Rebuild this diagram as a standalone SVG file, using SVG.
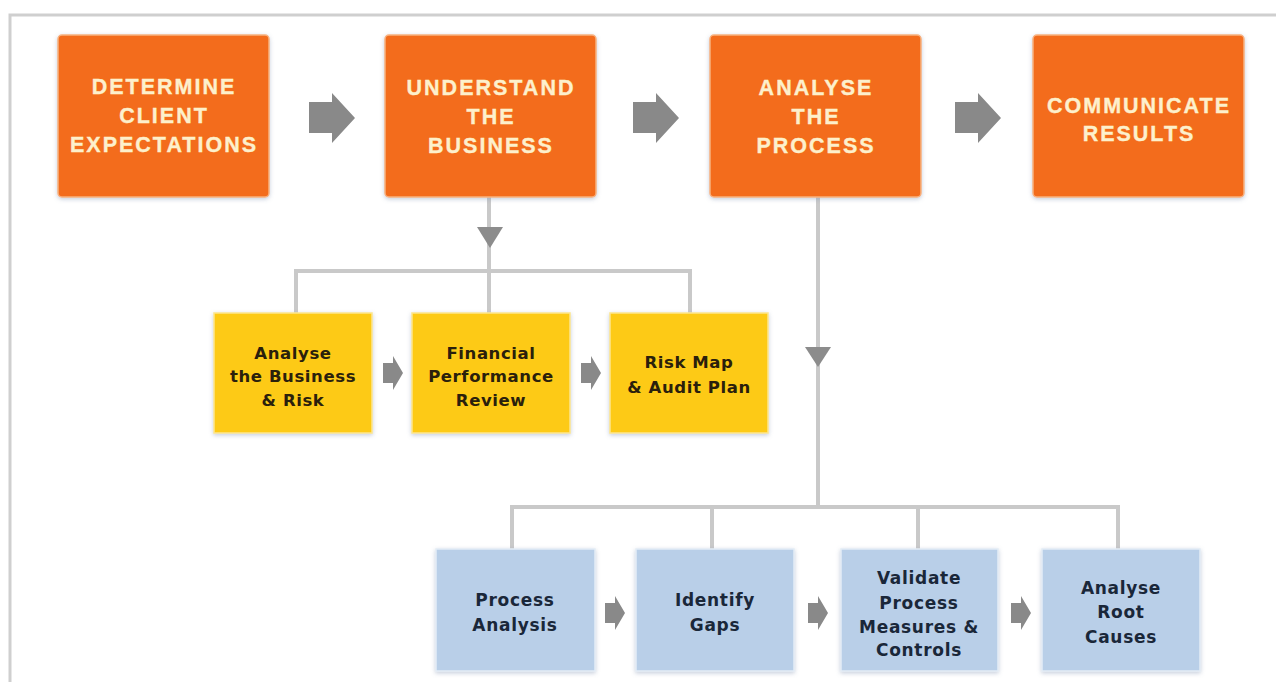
<svg xmlns="http://www.w3.org/2000/svg" width="1276" height="682" viewBox="0 0 1276 682">
<defs>
<filter id="sh" x="-10%" y="-10%" width="120%" height="125%">
<feDropShadow dx="0" dy="1.5" stdDeviation="2.2" flood-color="#7f8fb0" flood-opacity="0.45"/>
</filter>
<style>
.frame{stroke:#cfcfcf;stroke-width:3;fill:none}
.conn{stroke:#c9c9c9;stroke-width:4;fill:none}
.tri{fill:#8c8c8c}
.arr{fill:#898989}
.org{fill:#f36c1f;stroke:#f8b27f;stroke-width:1.5}
.yel{fill:#fdca18;stroke:#fde68f;stroke-width:1.5}
.blu{fill:#b9cfe8;stroke:#e4edf6;stroke-width:1.5}
.ot{font-family:"Liberation Sans",Arial,sans-serif;font-weight:bold;font-size:21.5px;letter-spacing:2px;fill:#fdf0cc;stroke:#fdf0cc;stroke-width:0.35;text-anchor:middle}
.yt{font-family:"DejaVu Sans",Verdana,sans-serif;font-weight:bold;font-size:16.5px;letter-spacing:0.6px;fill:#2a200c;text-anchor:middle}
.bt{font-family:"DejaVu Sans",Verdana,sans-serif;font-weight:bold;font-size:17px;letter-spacing:0.7px;fill:#1a2739;text-anchor:middle}
</style>
</defs>
<rect x="0" y="0" width="1276" height="682" fill="#ffffff"/>
<path class="frame" d="M10 682 V15 H1276"/>

<g id="connectors">
<path class="conn" d="M489 197 V313 M296 313 V271 H690 V313"/>
<polygon class="tri" points="477,227 503,227 490,248"/>
<path class="conn" d="M818 197 V507 M512 549 V507 H1118 V549 M712 507 V549 M918 507 V549"/>
<polygon class="tri" points="805,347 831,347 818,367"/>
<polygon class="arr" points="309,102 332,102 332,93 355,118 332,143 332,133 309,133"/>
<polygon class="arr" points="633,102 656,102 656,93 679,118 656,143 656,133 633,133"/>
<polygon class="arr" points="955,102 978,102 978,93 1001,118 978,143 978,133 955,133"/>
<polygon class="arr" points="383,363 393,363 393,356 403,373 393,390 393,383 383,383"/>
<polygon class="arr" points="581,363 591,363 591,356 601,373 591,390 591,383 581,383"/>
<polygon class="arr" points="605,603 615,603 615,596 625,613 615,630 615,623 605,623"/>
<polygon class="arr" points="808,603 818,603 818,596 828,613 818,630 818,623 808,623"/>
<polygon class="arr" points="1011,603 1021,603 1021,596 1031,613 1021,630 1021,623 1011,623"/>
</g>

<g id="n1"><rect class="org" x="58" y="35" width="211" height="162" rx="4" filter="url(#sh)"/>
<text class="ot" x="164" y="94">DETERMINE</text><text class="ot" x="164" y="123">CLIENT</text><text class="ot" x="164" y="152">EXPECTATIONS</text></g>
<g id="n2"><rect class="org" x="385" y="35" width="211" height="162" rx="4" filter="url(#sh)"/>
<text class="ot" x="491" y="95">UNDERSTAND</text><text class="ot" x="491" y="124">THE</text><text class="ot" x="491" y="153">BUSINESS</text></g>
<g id="n3"><rect class="org" x="710" y="35" width="211" height="162" rx="4" filter="url(#sh)"/>
<text class="ot" x="816" y="95">ANALYSE</text><text class="ot" x="816" y="124">THE</text><text class="ot" x="816" y="153">PROCESS</text></g>
<g id="n4"><rect class="org" x="1033" y="35" width="211" height="162" rx="4" filter="url(#sh)"/>
<text class="ot" x="1139" y="113">COMMUNICATE</text><text class="ot" x="1139" y="141">RESULTS</text></g>

<g id="y1"><rect class="yel" x="214" y="313" width="158" height="120" filter="url(#sh)"/>
<text class="yt" x="293" y="359">Analyse</text><text class="yt" x="293" y="382">the Business</text><text class="yt" x="293" y="406">&amp; Risk</text></g>
<g id="y2"><rect class="yel" x="412" y="313" width="158" height="120" filter="url(#sh)"/>
<text class="yt" x="491" y="359">Financial</text><text class="yt" x="491" y="382">Performance</text><text class="yt" x="491" y="406">Review</text></g>
<g id="y3"><rect class="yel" x="610" y="313" width="158" height="120" filter="url(#sh)"/>
<text class="yt" x="689" y="368">Risk Map</text><text class="yt" x="689" y="393">&amp; Audit Plan</text></g>

<g id="b1"><rect class="blu" x="436" y="549" width="159" height="122" filter="url(#sh)"/>
<text class="bt" x="515" y="606">Process</text><text class="bt" x="515" y="631">Analysis</text></g>
<g id="b2"><rect class="blu" x="636" y="549" width="158" height="122" filter="url(#sh)"/>
<text class="bt" x="715" y="606">Identify</text><text class="bt" x="715" y="631">Gaps</text></g>
<g id="b3"><rect class="blu" x="841" y="549" width="157" height="122" filter="url(#sh)"/>
<text class="bt" x="919" y="584">Validate</text><text class="bt" x="919" y="609">Process</text><text class="bt" x="919" y="633">Measures &amp;</text><text class="bt" x="919" y="656">Controls</text></g>
<g id="b4"><rect class="blu" x="1042" y="549" width="158" height="122" filter="url(#sh)"/>
<text class="bt" x="1121" y="594">Analyse</text><text class="bt" x="1121" y="618">Root</text><text class="bt" x="1121" y="643">Causes</text></g>
</svg>
